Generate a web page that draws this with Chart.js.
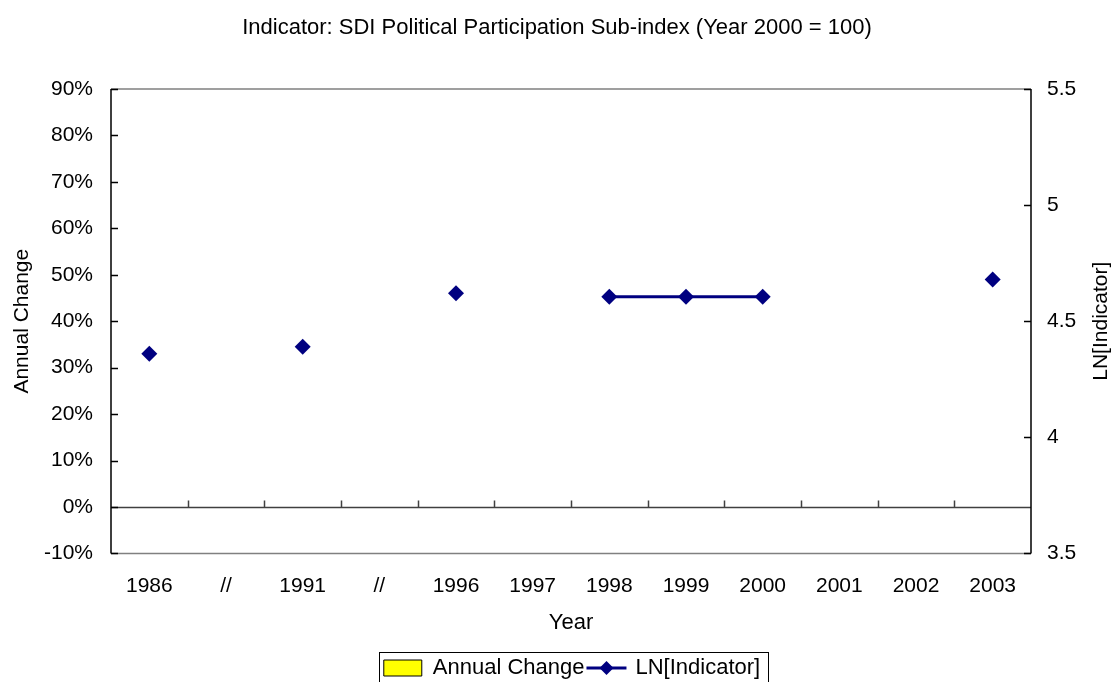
<!DOCTYPE html>
<html>
<head>
<meta charset="utf-8">
<script src="https://cdn.jsdelivr.net/npm/chart.js@4/dist/chart.umd.min.js"></script>
<style>
  html, body { margin: 0; padding: 0; background: #fff; }
  #wrap { width: 1114px; height: 682px; }
</style>
</head>
<body>
<div id="wrap"><canvas id="c" width="1114" height="682"></canvas></div>
<script>
// Years on the category axis ("//" marks a break in the series)
const years = ['1986', '//', '1991', '//', '1996', '1997', '1998', '1999', '2000', '2001', '2002', '2003'];
// Annual change of the indicator (fraction); gaps where no previous year exists
const annualChange = [null, null, null, null, null, null, null, 0, 0, null, null, null];
// Natural log of the indicator (Year 2000 = 100)
const lnIndicator = [4.36, null, 4.39, null, 4.62, null, 4.605, 4.605, 4.605, null, null, 4.68];
// Axis ranges
const leftTicks = { min: -0.1, max: 0.9, step: 0.1 };
const rightTicks = { min: 3.5, max: 5.5, step: 0.5 };

const FONT = '"Liberation Sans", Arial, sans-serif';
const NAVY = '#000080';

// Frame, inward tick marks, zero line, rotated axis titles and legend frame
const framePlugin = {
  id: 'frame',
  afterLayout(chart) {
    const lg = chart.legend;
    if (lg) { lg.left += 30; lg.top += 7; lg.bottom += 7; }
  },
  afterDatasetsDraw(chart) {
    const { ctx, chartArea: a, scales } = chart;
    const y = scales.y, y1 = scales.y1;
    ctx.save();
    // top and bottom borders
    ctx.strokeStyle = '#808080';
    ctx.lineWidth = 1.5;
    ctx.beginPath();
    ctx.moveTo(a.left, a.top); ctx.lineTo(a.right, a.top);
    ctx.moveTo(a.left, a.bottom); ctx.lineTo(a.right, a.bottom);
    ctx.stroke();
    // zero line with category separators
    const y0 = Math.round(y.getPixelForValue(0)) + 0.5;
    ctx.strokeStyle = '#404040';
    ctx.lineWidth = 1.5;
    ctx.beginPath();
    ctx.moveTo(a.left, y0); ctx.lineTo(a.right, y0);
    const w = (a.right - a.left) / years.length;
    for (let k = 1; k < years.length; k++) {
      const px = Math.round(a.left + k * w) + 0.5;
      ctx.moveTo(px, y0); ctx.lineTo(px, y0 - 7);
    }
    ctx.stroke();
    // axis lines with inward ticks
    ctx.strokeStyle = '#000';
    ctx.lineWidth = 1.5;
    ctx.beginPath();
    ctx.moveTo(a.left, a.top); ctx.lineTo(a.left, a.bottom);
    ctx.moveTo(a.right, a.top); ctx.lineTo(a.right, a.bottom);
    for (let v = leftTicks.min; v <= leftTicks.max + 1e-9; v += leftTicks.step) {
      const py = Math.round(y.getPixelForValue(v)) + 0.5;
      ctx.moveTo(a.left, py); ctx.lineTo(a.left + 7, py);
    }
    for (let v = rightTicks.min; v <= rightTicks.max + 1e-9; v += rightTicks.step) {
      const py = Math.round(y1.getPixelForValue(v)) + 0.5;
      ctx.moveTo(a.right, py); ctx.lineTo(a.right - 7, py);
    }
    ctx.stroke();
    // rotated axis titles (reading bottom to top)
    ctx.fillStyle = '#000';
    ctx.font = '21px ' + FONT;
    ctx.textAlign = 'center';
    ctx.textBaseline = 'middle';
    const cy = (a.top + a.bottom) / 2;
    ctx.save();
    ctx.translate(22, cy);
    ctx.rotate(-Math.PI / 2);
    ctx.fillText('Annual Change', 0, 0);
    ctx.restore();
    ctx.save();
    ctx.translate(1101, cy);
    ctx.rotate(-Math.PI / 2);
    ctx.fillText('LN[Indicator]', 0, 0);
    ctx.restore();
    ctx.restore();
  },
  afterDraw(chart) {
    const lg = chart.legend;
    if (!lg || !lg.legendHitBoxes) return;
    const { ctx } = chart;
    const hb = lg.legendHitBoxes;
    const left = hb[0].left - 5;
    const last = hb[hb.length - 1];
    const right = last.left + last.width + 8;
    ctx.save();
    ctx.strokeStyle = '#000';
    ctx.lineWidth = 1;
    ctx.strokeRect(Math.round(left) + 0.5, Math.round(lg.top) - 2.5, Math.round(right - left), 60);
    // line-with-marker swatch for the indicator series
    const b = hb[1];
    const cy = b.top + b.height / 2;
    ctx.strokeStyle = NAVY;
    ctx.lineWidth = 3;
    ctx.beginPath();
    ctx.moveTo(b.left, cy); ctx.lineTo(b.left + 40, cy);
    ctx.stroke();
    ctx.fillStyle = NAVY;
    ctx.beginPath();
    const mx = b.left + 20;
    ctx.moveTo(mx, cy - 7); ctx.lineTo(mx + 7, cy); ctx.lineTo(mx, cy + 7); ctx.lineTo(mx - 7, cy);
    ctx.closePath();
    ctx.fill();
    ctx.restore();
  }
};

new Chart(document.getElementById('c'), {
  data: {
    labels: years,
    datasets: [
      {
        type: 'line',
        label: 'LN[Indicator]',
        data: lnIndicator,
        yAxisID: 'y1',
        borderColor: NAVY,
        backgroundColor: NAVY,
        borderWidth: 3,
        pointStyle: 'rectRot',
        pointRadius: 8,
        pointHoverRadius: 8,
        pointBorderWidth: 0,
        spanGaps: false,
        order: 1
      },
      {
        type: 'bar',
        label: 'Annual Change',
        data: annualChange,
        yAxisID: 'y',
        backgroundColor: '#ffff00',
        borderColor: '#000',
        borderWidth: 0,
        order: 2
      }
    ]
  },
  options: {
    responsive: false,
    animation: false,
    layout: { padding: 0 },
    plugins: {
      title: {
        display: true,
        text: 'Indicator: SDI Political Participation Sub-index (Year 2000 = 100)',
        color: '#000',
        font: { family: FONT, size: 22, weight: 'normal', lineHeight: 1.2 },
        padding: { top: 15, bottom: 47.6 }
      },
      legend: {
        position: 'bottom',
        reverse: true,
        labels: {
          color: '#000',
          font: { family: FONT, size: 22 },
          boxWidth: 38,
          boxHeight: 16,
          padding: 2,
          generateLabels(chart) {
            return [
              { text: 'LN[Indicator]', fillStyle: 'rgba(0,0,0,0)', strokeStyle: 'rgba(0,0,0,0)', lineWidth: 0, datasetIndex: 0 },
              { text: 'Annual Change', fillStyle: '#ffff00', strokeStyle: '#000', lineWidth: 1, datasetIndex: 1 }
            ];
          }
        }
      },
      tooltip: { enabled: false }
    },
    scales: {
      x: {
        type: 'category',
        offset: true,
        grid: { display: false, drawTicks: false },
        border: { display: false },
        ticks: { color: '#000', font: { family: FONT, size: 21 }, padding: 20, maxRotation: 0, autoSkip: false },
        title: { display: true, text: 'Year', color: '#000', font: { family: FONT, size: 22 }, padding: { top: 12, bottom: 11.4 } },
        afterFit(s) { s.height = 94.6; }
      },
      y: {
        position: 'left',
        min: leftTicks.min,
        max: leftTicks.max,
        grid: { display: false, drawTicks: false },
        border: { display: false },
        ticks: {
          stepSize: leftTicks.step,
          color: '#000',
          font: { family: FONT, size: 21 },
          padding: 18,
          callback: v => Math.round(v * 100) + '%'
        },
        afterFit(s) { s.width = 111; }
      },
      y1: {
        position: 'right',
        min: rightTicks.min,
        max: rightTicks.max,
        grid: { display: false, drawTicks: false },
        border: { display: false },
        ticks: {
          stepSize: rightTicks.step,
          color: '#000',
          font: { family: FONT, size: 21 },
          padding: 16,
          callback: v => String(Math.round(v * 10) / 10)
        },
        afterFit(s) { s.width = 83; }
      }
    }
  },
  plugins: [framePlugin]
});
</script>
</body>
</html>
